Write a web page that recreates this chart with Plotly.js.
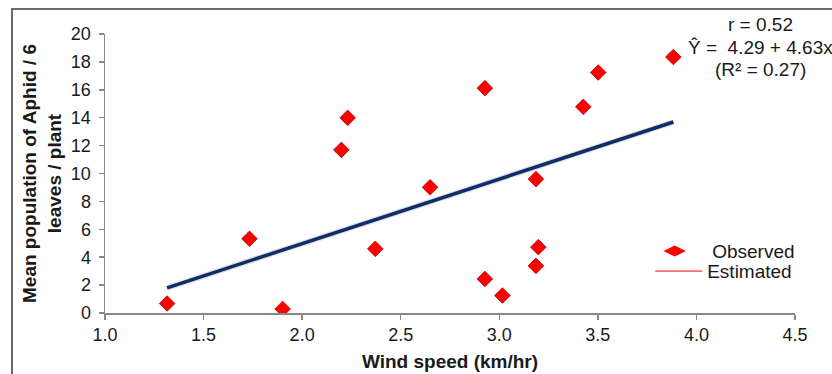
<!DOCTYPE html>
<html>
<head>
<meta charset="utf-8">
<script src="https://cdn.plot.ly/plotly-3.0.1.min.js"></script>
<style>
html,body{margin:0;padding:0;background:#fff;overflow:hidden;}
#chart{width:832px;height:374px;position:absolute;left:0;top:0;}
#frame{position:absolute;left:11px;top:8px;width:900px;height:400px;border-left:2px solid #6a6a6a;border-top:2px solid #6a6a6a;pointer-events:none;}
</style>
</head>
<body>
<div id="chart"></div>
<div id="frame"></div>
<script>
// Observed data (wind speed km/hr, mean aphid population / 6 leaves / plant)
const windSpeed = [1.315, 1.733, 1.901, 2.199, 2.231, 2.371, 2.649, 2.927, 2.927, 3.016, 3.186, 3.198, 3.186, 3.426, 3.502, 3.883];
const aphidPop  = [0.68, 5.32, 0.29, 11.69, 13.99, 4.60, 9.01, 16.12, 2.44, 1.25, 9.60, 4.72, 3.38, 14.78, 17.24, 18.35];
// Estimated (regression) line end points
const estX = [1.315, 3.883];
const estY = [1.80, 13.69];
const xTicks = [1.0, 1.5, 2.0, 2.5, 3.0, 3.5, 4.0, 4.5];
const xTickText = ['1.0','1.5','2.0','2.5','3.0','3.5','4.0','4.5'];
const yTicks = [0, 2, 4, 6, 8, 10, 12, 14, 16, 18, 20];
const statLines = ['r = 0.52', 'Ŷ =  4.29 + 4.63x', '(R² = 0.27)'];

const FONT = 'Arial, "Liberation Sans", sans-serif';
const TXT = '#1a1a1a';

const traces = [
  {x: estX, y: estY, type: 'scatter', mode: 'lines', showlegend: false,
   line: {color: 'rgba(0,0,0,0.12)', width: 6}, hoverinfo: 'skip'},
  {x: estX, y: estY, type: 'scatter', mode: 'lines', name: 'Estimated', showlegend: false,
   line: {color: '#102c6a', width: 3.5}},
  {x: windSpeed, y: aphidPop, type: 'scatter', mode: 'markers', name: 'Observed', showlegend: false,
   marker: {symbol: 'diamond', size: 12, color: '#ff0000', line: {color: '#b00000', width: 0.8}}},
  // legend entries
  {x: [null], y: [null], type: 'scatter', mode: 'markers', name: 'Observed', legend: 'legend',
   marker: {symbol: 'diamond-wide', size: 16, color: '#ff0000'}},
  {x: [null], y: [null], type: 'scatter', mode: 'lines', name: 'Estimated', legend: 'legend2',
   line: {color: '#ff0000', width: 1}}
];

const annotations = statLines.map((t, i) => ({
  text: t, xref: 'paper', yref: 'paper', x: (760 - 105.3) / 689.4, y: (312.7 - (25 + i * 22.5)) / 278.4,
  xanchor: 'center', yanchor: 'middle', showarrow: false,
  font: {family: FONT, size: 19, color: TXT}
}));

const legendBase = {xanchor: 'left', yanchor: 'middle', bgcolor: 'rgba(0,0,0,0)',
  font: {family: FONT, size: 19, color: TXT}, borderwidth: 0};

const layout = {
  width: 832, height: 374,
  margin: {l: 105.3, r: 37.3, t: 34.3, b: 61.3},
  paper_bgcolor: '#ffffff', plot_bgcolor: '#ffffff',
  font: {family: FONT, size: 19, color: TXT},
  showlegend: true,
  legend: Object.assign({}, legendBase, {itemwidth: 65, x: (637 - 105.3) / 689.4, y: (312.7 - 251) / 278.4}),
  legend2: Object.assign({}, legendBase, {itemwidth: 47, x: (650 - 105.3) / 689.4, y: (312.7 - 271) / 278.4}),
  xaxis: {
    range: [1, 4.5], tickvals: xTicks, ticktext: xTickText,
    showgrid: false, zeroline: false, showline: true, linecolor: '#888888', linewidth: 1.5,
    ticks: 'outside', ticklen: 5, tickcolor: '#888888', tickwidth: 1.5,
    tickfont: {family: FONT, size: 18, color: TXT},
    title: {text: '<b>Wind speed (km/hr)</b>', font: {family: FONT, size: 19, color: TXT}, standoff: 10}
  },
  yaxis: {
    range: [0, 20], tickvals: yTicks,
    showgrid: false, zeroline: false, showline: true, linecolor: '#888888', linewidth: 1.5,
    ticks: 'outside', ticklen: 5, tickcolor: '#888888', tickwidth: 1.5, ticklabelstandoff: 4,
    tickfont: {family: FONT, size: 18, color: TXT},
    title: {text: '<b>Mean population of Aphid / 6<br>leaves / plant</b>', font: {family: FONT, size: 19, color: TXT}, standoff: 4}
  },
  annotations: annotations
};

Plotly.newPlot('chart', traces, layout, {displayModeBar: false, staticPlot: true});
</script>
</body>
</html>
